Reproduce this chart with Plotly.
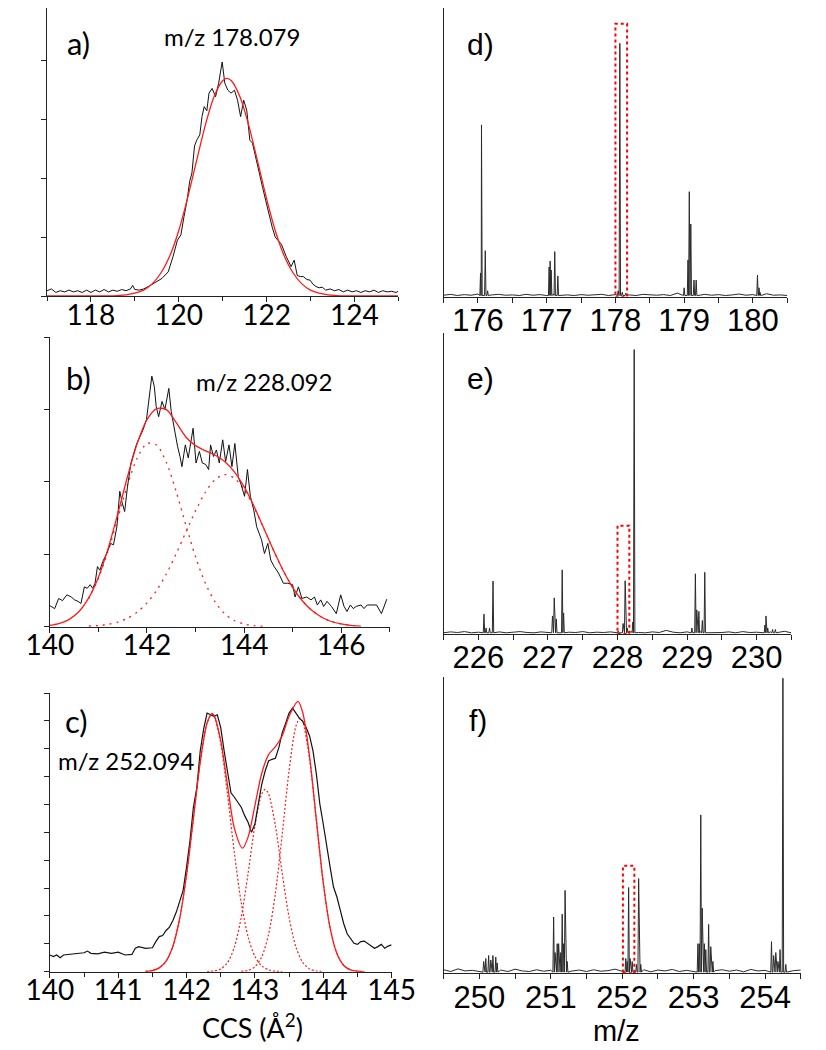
import numpy as np
import plotly.graph_objects as go

# page body has an 8 px margin; the figure is sized/placed to compensate
OFF = 8
W, H = 818, 1042

# ---------------- data: panel a (m/z 178.079) ----------------
a_raw = [(117.0,0.09),(117.1,0.12),(117.2,0.06),(117.3,0.09),(117.4,0.07),(117.5,0.10),(117.6,0.07),
         (117.7,0.09),(117.8,0.06),(117.9,0.10),(118.0,0.06),(118.1,0.10),(118.2,0.07),(118.3,0.11),
         (118.4,0.07),(118.5,0.10),(118.6,0.08),(118.7,0.11),(118.8,0.09),(118.9,0.12),(118.95,0.18),
         (119.0,0.11),(119.1,0.10),(119.2,0.12),(119.33,0.17),(119.47,0.23),(119.62,0.30),(119.76,0.41),
         (119.87,0.67),(119.97,0.95),(120.05,1.04),(120.12,1.35),(120.19,1.63),(120.25,1.95),(120.30,2.09),
         (120.36,2.55),(120.41,2.65),(120.48,2.74),(120.53,3.05),(120.58,3.22),(120.64,3.15),(120.69,3.45),
         (120.76,3.53),(120.84,3.39),(120.91,3.62),(120.99,3.98),(121.05,3.62),(121.12,3.50),(121.19,3.45),
         (121.27,3.50),(121.34,3.33),(121.41,3.05),(121.48,3.33),(121.55,3.16),(121.62,2.65),(121.68,2.60),
         (121.73,2.43),(121.78,2.25),(121.84,2.03),(121.91,1.85),(121.98,1.63),(122.06,1.38),(122.13,1.17),
         (122.20,1.00),(122.27,0.93),(122.34,0.88),(122.45,0.67),(122.56,0.50),(122.63,0.61),(122.70,0.35),
         (122.77,0.33),(122.84,0.33),(122.92,0.28),(122.99,0.27),(123.06,0.20),(123.13,0.16),(123.20,0.14),
         (123.27,0.15),(123.35,0.10),(123.45,0.12),(123.55,0.09),(123.65,0.11),(123.75,0.07),(123.85,0.10),
         (123.95,0.07),(124.05,0.09),(124.15,0.06),(124.25,0.09),(124.35,0.07),(124.45,0.10),(124.55,0.06),
         (124.65,0.09),(124.75,0.07),(124.85,0.08),(124.95,0.06),(125.0,0.08)]
a_fit = [(117.0,0.0),(118.0,0.0),(118.4,0.002),(118.6,0.008),(118.8,0.02),(119.0,0.047),(119.2,0.10),
         (119.4,0.21),(119.6,0.40),(119.8,0.69),(120.0,1.11),(120.2,1.66),(120.4,2.28),(120.6,2.89),
         (120.8,3.38),(121.0,3.66),(121.1,3.70),(121.2,3.66),(121.4,3.38),(121.6,2.89),(121.8,2.28),
         (122.0,1.66),(122.2,1.11),(122.4,0.69),(122.6,0.40),(122.8,0.21),(123.0,0.10),(123.2,0.047),
         (123.4,0.02),(123.6,0.008),(123.8,0.002),(124.2,0.0),(125.0,0.0)]

# ---------------- data: panel b (m/z 228.092) ----------------
b_raw = [(140.00,0.29),(140.10,0.25),(140.18,0.39),(140.26,0.36),(140.35,0.44),(140.44,0.41),(140.51,0.37),
         (140.58,0.35),(140.64,0.32),(140.71,0.55),(140.77,0.53),(140.83,0.58),(140.88,0.53),(140.93,0.60),
         (140.98,0.83),(141.03,0.78),(141.09,0.90),(141.17,1.01),(141.25,1.15),(141.31,1.13),(141.38,1.38),
         (141.44,1.87),(141.49,1.71),(141.54,1.59),(141.60,1.94),(141.67,2.26),(141.73,2.40),(141.79,2.53),
         (141.86,2.63),(141.92,2.72),(141.99,2.86),(142.05,3.18),(142.10,3.46),(142.15,3.32),(142.19,3.04),
         (142.24,2.90),(142.31,3.11),(142.37,3.00),(142.45,3.29),(142.50,2.97),(142.56,2.72),(142.63,2.49),
         (142.68,2.35),(142.72,2.21),(142.79,2.51),(142.85,2.33),(142.95,2.74),(143.01,2.26),(143.08,2.42),
         (143.14,2.26),(143.21,2.24),(143.27,2.17),(143.31,2.51),(143.37,2.35),(143.43,2.44),(143.49,2.26),
         (143.56,2.58),(143.62,2.28),(143.69,2.51),(143.75,2.21),(143.81,2.53),(143.88,2.07),(143.94,1.96),
         (144.01,1.80),(144.07,2.17),(144.13,1.80),(144.20,1.61),(144.26,1.38),(144.36,1.20),(144.42,1.01),
         (144.49,1.15),(144.55,0.92),(144.62,0.83),(144.71,0.74),(144.81,0.60),(144.90,0.60),(145.00,0.58),
         (145.05,0.41),(145.12,0.55),(145.19,0.39),(145.29,0.41),(145.38,0.37),(145.45,0.41),(145.51,0.30),
         (145.58,0.37),(145.64,0.28),(145.71,0.35),(145.80,0.28),(145.90,0.18),(145.99,0.44),(146.06,0.28),
         (146.12,0.21),(146.19,0.30),(146.25,0.25),(146.31,0.28),(146.41,0.30),(146.47,0.25),(146.54,0.30),
         (146.63,0.30),(146.73,0.30),(146.83,0.18),(146.89,0.30),(146.94,0.38)]
b_fit = [(140.0,0.018),(140.2,0.045),(140.4,0.101),(140.6,0.209),(140.8,0.397),(141.0,0.684),(141.2,1.081),
         (141.4,1.563),(141.6,2.074),(141.8,2.531),(142.0,2.858),(142.2,3.011),(142.4,2.998),(142.6,2.82),
         (142.8,2.62),(143.0,2.50),(143.2,2.43),(143.4,2.37),(143.6,2.28),(143.8,2.137),(144.0,1.933),
         (144.2,1.670),(144.4,1.370),(144.6,1.065),(144.8,0.783),(145.0,0.544),(145.2,0.358),(145.4,0.222),
         (145.6,0.131),(145.8,0.072),(146.0,0.038),(146.2,0.019),(146.4,0.009)]
b_comp1 = [(140.8,0.389),(141.0,0.668),(141.2,1.048),(141.4,1.499),(141.6,1.957),(141.8,2.330),(142.0,2.531),
           (142.2,2.508),(142.4,2.267),(142.6,1.869),(142.8,1.406),(143.0,0.965),(143.2,0.604),(143.4,0.345),
           (143.6,0.180),(143.8,0.085),(144.0,0.037),(144.2,0.015),(144.4,0.005)]
b_comp2 = [(140.8,0.008),(141.0,0.016),(141.2,0.033),(141.4,0.064),(141.6,0.117),(141.8,0.201),(142.0,0.327),
           (142.2,0.503),(142.4,0.731),(142.6,1.005),(142.8,1.304),(143.0,1.599),(143.2,1.853),(143.4,2.029),
           (143.6,2.100),(143.8,2.052),(144.0,1.896),(144.2,1.655),(144.4,1.365),(144.6,1.063),(144.8,0.783),
           (145.0,0.544),(145.2,0.358),(145.4,0.222),(145.6,0.131),(145.8,0.072),(146.0,0.038),(146.2,0.019),
           (146.4,0.009)]

# ---------------- data: panel c (m/z 252.094) ----------------
c_raw = [(140.00,0.30),(140.05,0.27),(140.10,0.30),(140.15,0.25),(140.20,0.30),(140.30,0.31),(140.40,0.32),
         (140.50,0.34),(140.55,0.37),(140.60,0.33),(140.70,0.32),(140.80,0.35),(140.90,0.33),(141.00,0.35),
         (141.10,0.30),(141.20,0.31),(141.25,0.42),(141.30,0.45),(141.40,0.42),(141.50,0.43),(141.55,0.54),
         (141.60,0.63),(141.65,0.65),(141.70,0.74),(141.75,0.80),(141.80,0.92),(141.85,1.07),(141.90,1.28),
         (141.95,1.46),(142.00,1.88),(142.05,2.35),(142.10,2.95),(142.15,3.30),(142.20,3.96),(142.25,4.35),
         (142.30,4.64),(142.35,4.61),(142.40,4.58),(142.45,4.61),(142.50,4.38),(142.55,3.96),(142.60,3.54),
         (142.65,3.21),(142.70,3.13),(142.75,3.04),(142.80,2.95),(142.85,2.80),(142.90,2.68),(142.95,2.50),
         (143.00,2.65),(143.05,3.01),(143.10,3.36),(143.15,3.60),(143.20,3.78),(143.25,3.81),(143.30,3.83),
         (143.35,4.02),(143.40,4.29),(143.45,4.46),(143.50,4.64),(143.55,4.73),(143.60,4.64),(143.65,4.55),
         (143.70,4.49),(143.75,4.38),(143.80,4.23),(143.85,3.96),(143.90,3.54),(143.95,3.01),(144.00,2.65),
         (144.05,2.23),(144.10,1.88),(144.15,1.52),(144.20,1.34),(144.25,1.10),(144.30,0.86),(144.35,0.68),
         (144.40,0.60),(144.45,0.51),(144.50,0.49),(144.55,0.54),(144.60,0.55),(144.65,0.51),(144.70,0.46),
         (144.75,0.42),(144.80,0.45),(144.85,0.49),(144.90,0.42),(144.95,0.46),(145.00,0.48)]
c_fit = [(141.4,0.006),(141.5,0.021),(141.6,0.068),(141.7,0.189),(141.8,0.457),(141.9,0.959),(142.0,1.744),
         (142.1,2.750),(142.2,3.761),(142.3,4.461),(142.37,4.63),(142.4,4.603),(142.5,4.147),(142.6,3.336),
         (142.7,2.572),(142.82,2.216),(142.9,2.414),(143.0,2.980),(143.1,3.560),(143.2,3.894),(143.3,4.036),
         (143.4,4.233),(143.5,4.584),(143.63,4.85),(143.7,4.650),(143.8,3.860),(143.9,2.714),(144.0,1.600),
         (144.1,0.788),(144.2,0.325),(144.3,0.112),(144.4,0.032),(144.5,0.008),(144.6,0.002)]
c_comp1 = [(141.4,0.006),(141.5,0.021),(141.6,0.068),(141.7,0.189),(141.8,0.457),(141.9,0.959),(142.0,1.744),
           (142.1,2.750),(142.2,3.761),(142.3,4.461),(142.37,4.62),(142.4,4.590),(142.5,4.097),(142.6,3.171),
           (142.7,2.128),(142.8,1.239),(142.9,0.626),(143.0,0.274),(143.1,0.104),(143.2,0.034),(143.3,0.010),
           (143.4,0.002)]
c_comp2 = [(142.3,0.003),(142.4,0.013),(142.5,0.050),(142.6,0.165),(142.7,0.443),(142.8,0.975),(142.9,1.764),
           (143.0,2.618),(143.1,3.190),(143.15,3.27),(143.2,3.190),(143.3,2.618),(143.4,1.764),(143.5,0.975),
           (143.6,0.443),(143.7,0.165),(143.8,0.050),(143.9,0.013),(144.0,0.003)]
c_comp3 = [(142.8,0.006),(142.9,0.024),(143.0,0.088),(143.1,0.266),(143.2,0.670),(143.3,1.408),(143.4,2.467),
           (143.5,3.609),(143.6,4.404),(143.66,4.55),(143.7,4.485),(143.8,3.810),(143.9,2.701),(144.0,1.597),
           (144.1,0.788),(144.2,0.325),(144.3,0.112),(144.4,0.032),(144.5,0.008),(144.6,0.002)]

# ---------------- data: mass spectra d, e, f ----------------
d_peaks = [(176.037,0.08),(176.051,0.579),(176.106,0.155),(176.14,0.02),(177.035,0.10),(177.05,0.12),
           (177.065,0.09),(177.117,0.152),(177.162,0.07),(178.04,0.02),(178.064,0.854),(178.10,0.015),
           (178.15,0.012),(179.0,0.03),(179.056,0.124),(179.075,0.354),(179.097,0.245),(179.143,0.056),
           (179.175,0.056),(180.067,0.073),(180.09,0.03),(180.104,0.015)]
d_noise = [0.005,0.008,0.004,0.007,0.005,0.009,0.004,0.006,0.008,0.005,
           0.006,0.004,0.008,0.005,0.007,0.004,0.009,0.005,0.006,0.004,
           0.007,0.005,0.006,0.008,0.004,0.007,0.005,0.006,0.004,0.008,
           0.006,0.005,0.007,0.004,0.012,0.005,0.006,0.004,0.008,0.005,
           0.007,0.004,0.006,0.009,0.005,0.007,0.004,0.010,0.005,0.006,0.004]
e_peaks = [(226.08,0.066),(226.11,0.02),(226.16,0.02),(226.21,0.176),(227.065,0.06),(227.09,0.12),
           (227.12,0.05),(227.205,0.213),(227.225,0.07),(228.01,0.01),(228.08,0.035),(228.11,0.177),
           (228.14,0.02),(228.22,0.04),(228.24,0.945),(229.07,0.02),(229.12,0.20),(229.14,0.08),
           (229.17,0.075),(229.22,0.045),(229.255,0.205),(230.12,0.03),(230.135,0.06),(230.16,0.02),
           (230.23,0.015),(230.27,0.015)]
e_noise = [0.004,0.007,0.005,0.008,0.004,0.006,0.009,0.005,0.007,0.004,
           0.006,0.008,0.005,0.004,0.007,0.005,0.009,0.004,0.006,0.005,
           0.008,0.004,0.006,0.005,0.007,0.004,0.006,0.008,0.005,0.004,
           0.007,0.005,0.012,0.006,0.004,0.007,0.005,0.008,0.004,0.006,
           0.005,0.007,0.004,0.008,0.005,0.006,0.004,0.007,0.005,0.009,0.004]
f_peaks = [(250.06,0.04),(250.09,0.05),(250.13,0.06),(250.16,0.045),(250.19,0.06),(250.23,0.055),
           (250.25,0.035),(251.04,0.19),(251.06,0.07),(251.09,0.10),(251.11,0.10),(251.14,0.07),
           (251.16,0.20),(251.18,0.10),(251.20,0.28),(251.23,0.04),(252.05,0.05),(252.07,0.04),
           (252.09,0.29),(252.11,0.05),(252.14,0.04),(252.20,0.03),(252.23,0.32),(252.26,0.03),
           (253.06,0.10),(253.08,0.10),(253.10,0.535),(253.12,0.22),(253.15,0.10),(253.17,0.08),
           (253.21,0.165),(253.24,0.09),(253.27,0.04),(254.09,0.107),(254.12,0.06),(254.15,0.07),
           (254.18,0.04),(254.21,0.08),(254.25,0.997),(254.29,0.03)]
f_noise = [0.012,0.006,0.015,0.008,0.010,0.005,0.013,0.007,0.011,0.006,
           0.014,0.008,0.006,0.012,0.007,0.010,0.005,0.013,0.008,0.011,
           0.006,0.012,0.007,0.009,0.014,0.006,0.010,0.007,0.012,0.005,
           0.011,0.008,0.013,0.006,0.010,0.007,0.015,0.006,0.009,0.012,
           0.007,0.011,0.005,0.013,0.008,0.010,0.006,0.012,0.007,0.009,0.011]

# selected m/z windows (red dotted boxes): (mz_low, mz_high, height)
d_window = (178.0, 178.17, 0.92)
e_window = (228.0, 228.17, 0.36)
f_window = (252.01, 252.17, 0.363)

labels = {"a": "m/z 178.079", "b": "m/z 228.092", "c": "m/z 252.094"}


def unzip(pairs):
    xs, ys = zip(*pairs)
    return list(xs), list(ys)


def spectrum(start, noise, peaks, w=0.01, step=0.1):
    pts = []
    for i, v in enumerate(noise):
        x = start + i * step
        if all(abs(x - c) > 1.6 * w for c, _ in peaks):
            pts.append((x, v))
    for c, h in peaks:
        pts += [(c - w, 0.004), (c, h), (c + w, 0.004)]
    pts.sort()
    return unzip(pts)


def xdom(l, r):
    return [max(0.0, (l - OFF) / W), min(1.0, (r - OFF) / W)]


def yaxis_geom(t, b, unit_top):
    """page px of top/bottom of axis; returns domain and upper range value
    (range kept to scale if the top had to be clipped by the page margin)."""
    full = b - t
    t2 = max(t, OFF)
    dom = [1 - (b - OFF) / H, 1 - (t2 - OFF) / H]
    top = unit_top * (b - t2) / full
    return dom, top


fig = go.Figure()
BLACK = "#111111"
RED = "#ff1a1a"


def line(pairs, ax, color, width, dash=None, spline=False):
    x, y = unzip(pairs)
    fig.add_trace(go.Scatter(x=x, y=y, mode="lines", xaxis="x" + ax, yaxis="y" + ax,
                             line=dict(color=color, width=width, dash=dash,
                                       shape="spline" if spline else "linear", smoothing=0.8),
                             hoverinfo="skip", showlegend=False))


# panel a
line(a_raw, "", BLACK, 1)
line(a_fit, "", RED, 1.3, spline=True)
# panel b
line(b_comp1, "2", RED, 1.3, dash="2px,5px", spline=True)
line(b_comp2, "2", RED, 1.3, dash="2px,5px", spline=True)
line(b_raw, "2", BLACK, 1)
line(b_fit, "2", RED, 1.3, spline=True)
# panel c
line(c_comp1, "3", RED, 1.2, dash="2px,2px", spline=True)
line(c_comp2, "3", RED, 1.2, dash="2px,2px", spline=True)
line(c_comp3, "3", RED, 1.2, dash="2px,2px", spline=True)
line(c_raw, "3", BLACK, 1.2)
line(c_fit, "3", RED, 1.3, spline=True)

# spectra
for ax, start, noise, peaks in [("4", 175.5, d_noise, d_peaks),
                                ("5", 225.5, e_noise, e_peaks),
                                ("6", 249.5, f_noise, f_peaks)]:
    x, y = spectrum(start, noise, peaks)
    fig.add_trace(go.Scatter(x=x, y=y, mode="lines", xaxis="x" + ax, yaxis="y" + ax,
                             line=dict(color="#2a2a2a", width=1), hoverinfo="skip", showlegend=False))

for ax, (lo, hi, top) in [("4", d_window), ("5", e_window), ("6", f_window)]:
    fig.add_shape(type="rect", xref="x" + ax, yref="y" + ax, x0=lo, x1=hi, y0=0, y1=top,
                  line=dict(color="#ff0000", width=2, dash="dot"), fillcolor="rgba(0,0,0,0)")

LEFT_FONT = dict(family="Lato, Open Sans, sans-serif", size=28, color="#000")
RIGHT_FONT = dict(family="Liberation Sans, Arial, sans-serif", size=31, color="#000")

common_x = dict(showline=True, linecolor="#222", linewidth=1.2, ticks="outside", ticklen=5,
                tickcolor="#222", tickwidth=1, showgrid=False, zeroline=False,
                ticklabeloverflow="allow")
common_y = dict(showline=True, linecolor="#222", linewidth=1.2, showgrid=False, zeroline=False,
                showticklabels=False)

layout = dict(width=W, height=H, margin=dict(l=0, r=0, t=0, b=0), autosize=False,
              paper_bgcolor="white", plot_bgcolor="white", showlegend=False)

# left column
dom, top = yaxis_geom(2, 296, 5)
layout["xaxis"] = dict(common_x, domain=xdom(24, 397), range=[117, 125], anchor="y",
                       tick0=118, dtick=2, tickfont=LEFT_FONT, ticklabelstandoff=-11,
                       minor=dict(dtick=1, tick0=117, ticks="outside", ticklen=4, tickcolor="#222"))
layout["yaxis"] = dict(common_y, domain=dom, range=[0, top], anchor="x",
                       ticks="outside", ticklen=5, dtick=1, tickcolor="#222")
dom, top = yaxis_geom(337, 626.7, 4)
layout["xaxis2"] = dict(common_x, domain=xdom(27, 388), range=[140, 147], anchor="y2",
                        tick0=140, dtick=2, tickfont=LEFT_FONT, ticklabelstandoff=-11,
                        minor=dict(dtick=1, tick0=140, ticks="outside", ticklen=4, tickcolor="#222"))
layout["yaxis2"] = dict(common_y, domain=dom, range=[0, top], anchor="x2",
                        ticks="outside", ticklen=5, dtick=1, tickcolor="#222")
dom, top = yaxis_geom(693, 971.7, 5)
layout["xaxis3"] = dict(common_x, domain=xdom(27, 390), range=[140, 145], anchor="y3",
                        tick0=140, dtick=1, tickfont=LEFT_FONT, ticklabelstandoff=-11,
                        minor=dict(dtick=0.5, tick0=140, ticks="outside", ticklen=4, tickcolor="#222"))
layout["yaxis3"] = dict(common_y, domain=dom, range=[0, top], anchor="x3",
                        ticks="outside", ticklen=5, dtick=0.5, tickcolor="#222")
# right column
for i, (lo, dom_x, dom_y) in enumerate([(175.5, (445.3, 810.3), (0, 296.7)),
                                        (225.5, (445.3, 814.7), (333, 634)),
                                        (249.5, (445.3, 824.7), (677.3, 973.3))]):
    n = str(i + 4)
    dom, top = yaxis_geom(dom_y[0], dom_y[1], 1)
    layout["xaxis" + n] = dict(common_x, domain=xdom(*dom_x), range=[lo, lo + 5], anchor="y" + n,
                               tick0=lo + 0.5, dtick=1, tickfont=RIGHT_FONT, ticklabelstandoff=-9,
                               minor=dict(dtick=0.5, tick0=lo, ticks="outside", ticklen=5,
                                          tickcolor="#222"))
    layout["yaxis" + n] = dict(common_y, domain=dom, range=[0, top], anchor="x" + n, ticks="")

fig.update_layout(**layout)


def ann(text, xpx, ypx, font):
    fig.add_annotation(text=text, x=(xpx - OFF) / W, y=1 - (ypx - OFF) / H, xref="paper", yref="paper",
                       xanchor="center", yanchor="middle", showarrow=False, font=font)


PANEL_L = dict(family="Lato, Open Sans, sans-serif", size=31, color="#000")
PANEL_R = dict(family="Liberation Sans, Arial, sans-serif", size=30, color="#000")
MZ_FONT = dict(family="Lato, Open Sans, sans-serif", size=24, color="#000")

ann("a)", 57, 43, PANEL_L)
ann("b)", 57, 378, PANEL_L)
ann("c)", 55, 721, PANEL_L)
ann("d)", 484, 45, PANEL_R)
ann("e)", 484, 378, PANEL_R)
ann("f)", 482, 720, PANEL_R)
ann(labels["a"], 220, 37, MZ_FONT)
ann(labels["b"], 254, 382, MZ_FONT)
ann(labels["c"], 108, 760, MZ_FONT)
ann("CCS (Å<sup>2</sup>)", 242, 1026, dict(family="Lato, Open Sans, sans-serif", size=27, color="#000"))
ann("m/z", 629, 1031, dict(family="Liberation Sans, Arial, sans-serif", size=29, color="#000"))

fig.write_html("out.html")
